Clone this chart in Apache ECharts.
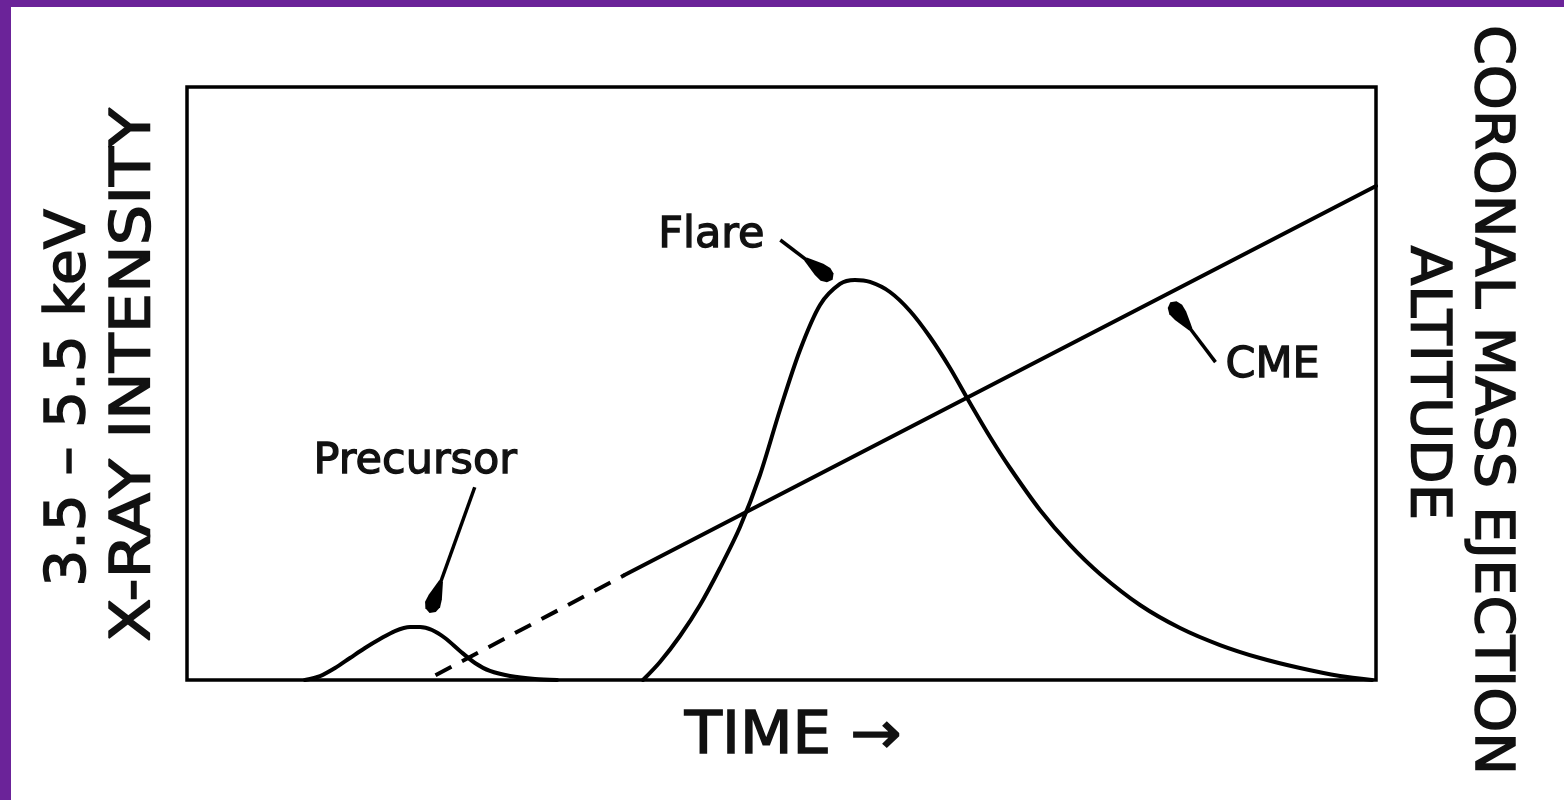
<!DOCTYPE html>
<html>
<head>
<meta charset="utf-8">
<script src="https://cdn.jsdelivr.net/npm/echarts@6/dist/echarts.min.js"></script>
<style>
  html, body { margin: 0; padding: 0; background: #ffffff; }
  #wrap { position: relative; width: 1564px; height: 800px; overflow: hidden; }
  #chart { position: absolute; left: 0; top: 0; width: 1564px; height: 800px; }
  .bar { position: absolute; background: #6b2399; }
</style>
</head>
<body>
<div id="wrap">
  <div id="chart"></div>
  <div class="bar" style="left:0;top:0;width:11px;height:800px;"></div>
  <div class="bar" style="left:0;top:0;width:1564px;height:7px;"></div>
</div>
<script>
// ---- data (arbitrary units, time 0..100, intensity/altitude 0..100) ----
const precursorX = [9.92, 11.19, 12.45, 13.71, 14.97, 16.23, 17.49, 18.76, 19.60, 20.61, 21.70, 22.96, 24.22, 25.48, 27.17, 29.27, 31.12];
const precursorY = [0, 0.67, 2.02, 3.71, 5.40, 6.91, 8.26, 8.94, 8.94, 8.43, 7.08, 4.89, 2.87, 1.52, 0.67, 0.17, 0];

const flareX = [38.35, 39.78, 41.46, 43.15, 44.83, 46.51, 48.19, 49.87, 51.56, 53.24, 54.92, 56.18, 57.44, 59.12, 60.81, 62.49, 64.17, 65.85, 67.54, 69.22, 71.74, 74.26, 76.79, 80.15, 83.52, 86.88, 90.24, 93.61, 96.97, 99.66];
const flareY = [0, 3.04, 7.42, 12.65, 18.89, 25.80, 34.57, 45.53, 55.65, 63.24, 66.78, 67.45, 67.12, 65.43, 62.23, 57.84, 52.61, 46.71, 40.98, 35.75, 28.67, 22.77, 17.88, 12.65, 8.77, 5.90, 3.71, 2.02, 0.67, 0];

const cmeDashedX = [20.9, 36.8];
const cmeDashedY = [0.8, 17.7];
const cmeSolidX = [36.8, 100];
const cmeSolidY = [17.7, 83.3];

const labelNames = ['Precursor', 'Flare', 'CME'];
const labelX = [19.2, 44.1, 91.3];
const labelY = [36.8, 74.9, 53.0];

const arrowTailX = [24.2, 49.9, 86.5];
const arrowTailY = [32.5, 74.2, 53.6];
const arrowHeadX = [20.4, 54.3, 82.7];
const arrowHeadY = [11.3, 67.5, 63.7];

const leftTitle = ['3.5 \u2013 5.5 keV', 'X-RAY INTENSITY'];
const rightTitle = ['CORONAL MASS EJECTION', 'ALTITUDE'];
const bottomTitle = 'TIME \u2192';

// ---- helpers ----
const zip = (xs, ys) => xs.map((x, i) => [x, ys[i]]);
const FONT = '"DejaVu Sans", Verdana, sans-serif';

const chart = echarts.init(document.getElementById('chart'), null, { renderer: 'canvas' });

const lineBase = {
  type: 'line',
  showSymbol: false,
  symbol: 'none',
  silent: true,
  smooth: 0.3,
  lineStyle: { color: '#000', width: 4, cap: 'round', join: 'round' },
  z: 3
};

function textEl(text, x, y, rot, size, sx) {
  return {
    type: 'text',
    x: x, y: y,
    rotation: rot,
    scaleX: sx || 1,
    style: {
      text: text,
      font: size + 'px ' + FONT,
      fill: '#111',
      stroke: '#111', lineWidth: 1.5,
      align: 'center', verticalAlign: 'middle',
      textAlign: 'center', textVerticalAlign: 'middle'
    }
  };
}

const option = {
  backgroundColor: '#ffffff',
  animation: false,
  grid: {
    left: 187, top: 87, width: 1189, height: 593,
    show: true, borderColor: '#000', borderWidth: 3.5, backgroundColor: 'transparent'
  },
  xAxis: {
    type: 'value', min: 0, max: 100,
    axisLine: { show: false }, axisTick: { show: false },
    axisLabel: { show: false }, splitLine: { show: false }
  },
  yAxis: [
    { type: 'value', min: 0, max: 100,
      axisLine: { show: false }, axisTick: { show: false },
      axisLabel: { show: false }, splitLine: { show: false } },
    { type: 'value', min: 0, max: 100, position: 'right',
      axisLine: { show: false }, axisTick: { show: false },
      axisLabel: { show: false }, splitLine: { show: false } }
  ],
  graphic: [
    textEl(leftTitle[0], 70, 398, Math.PI / 2, 55, 1.06),
    textEl(leftTitle[1], 135, 375, Math.PI / 2, 55, 1.16),
    textEl(rightTitle[0], 1490, 400, -Math.PI / 2, 54, 1.06),
    textEl(rightTitle[1], 1426, 383, -Math.PI / 2, 55, 1.05),
    textEl(bottomTitle, 793, 738, 0, 58, 1.05)
  ],
  series: [
    Object.assign({}, lineBase, { name: 'Precursor', data: zip(precursorX, precursorY) }),
    Object.assign({}, lineBase, { name: 'Flare', data: zip(flareX, flareY) }),
    Object.assign({}, lineBase, {
      name: 'CME (extrapolated)', yAxisIndex: 1, smooth: false,
      data: zip(cmeDashedX, cmeDashedY),
      lineStyle: { color: '#000', width: 4, type: [18, 12], cap: 'butt' }
    }),
    Object.assign({}, lineBase, {
      name: 'CME', yAxisIndex: 1, smooth: false,
      data: zip(cmeSolidX, cmeSolidY)
    }),
    {
      type: 'custom', name: 'arrows', silent: true, z: 4, clip: false,
      data: arrowTailX.map((x, i) => [x, arrowTailY[i], arrowHeadX[i], arrowHeadY[i]]),
      encode: { x: [0, 2], y: [1, 3] },
      renderItem: function (params, api) {
        const t = api.coord([api.value(0), api.value(1)]);
        const h = api.coord([api.value(2), api.value(3)]);
        const dx = h[0] - t[0], dy = h[1] - t[1];
        const len = Math.sqrt(dx * dx + dy * dy);
        const ux = dx / len, uy = dy / len;
        const nx = -uy, ny = ux;
        const P = (a, b) => [h[0] - ux * a + nx * b, h[1] - uy * a + ny * b];
        const head = [P(0, 0), P(3, 5.5), P(9, 8), P(17, 7), P(34, 2), P(34, -2), P(17, -7), P(9, -8), P(3, -5.5)];
        const lineEnd = P(30, 0);
        return {
          type: 'group',
          children: [
            { type: 'line', shape: { x1: t[0], y1: t[1], x2: lineEnd[0], y2: lineEnd[1] },
              style: { stroke: '#000', lineWidth: 3.5 } },
            { type: 'polygon', shape: { points: head }, style: { fill: '#000' } }
          ]
        };
      }
    },
    {
      type: 'custom', name: 'labels', silent: true, z: 5, clip: false,
      data: labelX.map((x, i) => [x, labelY[i], i]),
      encode: { x: 0, y: 1 },
      renderItem: function (params, api) {
        const p = api.coord([api.value(0), api.value(1)]);
        return {
          type: 'text',
          x: p[0], y: p[1],
          style: {
            text: labelNames[api.value(2)],
            font: '43px ' + FONT,
            fill: '#111',
            stroke: '#111', lineWidth: 1.3,
            align: 'center', verticalAlign: 'middle',
            textAlign: 'center', textVerticalAlign: 'middle'
          }
        };
      }
    }
  ]
};

chart.setOption(option);
</script>
</body>
</html>
